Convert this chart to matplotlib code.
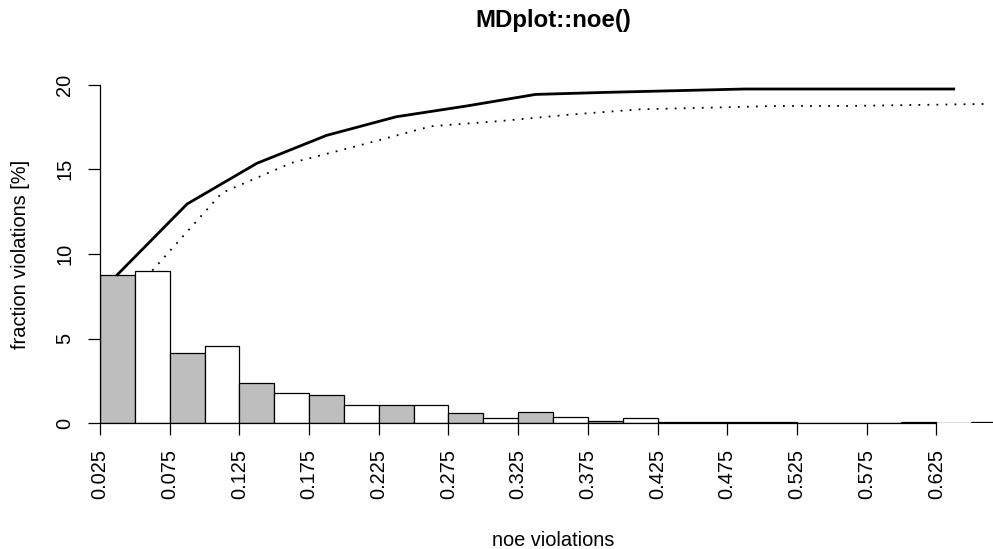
import matplotlib
matplotlib.use("Agg")
import matplotlib.pyplot as plt
import numpy as np

plt.rcParams['font.family'] = ['Liberation Sans', 'DejaVu Sans']

# noe violation histogram, bins of 0.025 starting at 0.025
bin_left = [0.025, 0.050, 0.075, 0.100, 0.125, 0.150, 0.175, 0.200, 0.225,
            0.250, 0.275, 0.300, 0.325, 0.350, 0.375, 0.400, 0.425, 0.450,
            0.475, 0.500, 0.525, 0.550, 0.575, 0.600, 0.625, 0.650]
fraction = [8.78, 9.02, 4.17, 4.59, 2.40, 1.77, 1.65, 1.06, 1.10,
            1.10, 0.63, 0.31, 0.69, 0.38, 0.12, 0.31, 0.10, 0.10,
            0.10, 0.10, 0.00, 0.00, 0.00, 0.06, 0.00, 0.06]
bar_colors = ['#bebebe', 'white']

tick_values = [0.025, 0.075, 0.125, 0.175, 0.225, 0.275, 0.325, 0.375,
               0.425, 0.475, 0.525, 0.575, 0.625]
tick_labels = ['0.025', '0.075', '0.125', '0.175', '0.225', '0.275', '0.325',
               '0.375', '0.425', '0.475', '0.525', '0.575', '0.625']
y_ticks = [0, 5, 10, 15, 20]

width = 0.025
bin_left = np.array(bin_left)
fraction = np.array(fraction)
centers = bin_left + width / 2

fig = plt.figure(figsize=(9.93, 5.49), dpi=100)
ax = fig.add_axes([100 / 993, (549 - 423.3) / 549, 906 / 993, 338.7 / 549])

colors = [bar_colors[i % 2] for i in range(len(fraction))]
ax.bar(bin_left, fraction, width=width, align='edge', color=colors,
       edgecolor='black', linewidth=0.9, zorder=2)

# cumulative curves of the two interleaved series
grey = slice(0, None, 2)
white = slice(1, None, 2)
ax.plot(centers[grey], np.cumsum(fraction[grey]), color='black', lw=2.0,
        solid_joinstyle='miter', zorder=3, clip_on=False)
ax.plot(centers[white], np.cumsum(fraction[white]), color='black', lw=1.3,
        linestyle=(0, (1, 4)), zorder=3, clip_on=False)

ax.set_xlim(0.025, 0.675)
ax.set_ylim(0, 20)

for s in ['top', 'right']:
    ax.spines[s].set_visible(False)
ax.spines['left'].set_bounds(0, 20)
ax.spines['bottom'].set_bounds(0.025, 0.625)
for s in ['left', 'bottom']:
    ax.spines[s].set_linewidth(0.9)

ax.set_xticks(tick_values)
ax.set_xticklabels(tick_labels, rotation=90, va='top', ha='center')
ax.set_yticks(y_ticks)
ax.set_yticklabels([str(v) for v in y_ticks], rotation=90, va='center')
ax.tick_params(axis='both', length=8.6, width=0.9, labelsize=14.4, pad=10)

ax.set_xlabel('noe violations', fontsize=14.4)
ax.xaxis.set_label_coords(0.5, -0.318)
ax.set_ylabel('fraction violations [%]', fontsize=14.4)
ax.yaxis.set_label_coords(-0.077, 0.5)
ax.set_title('MDplot::noe()', fontsize=17.3, fontweight='bold',
             y=1.19, va='center', pad=0)

fig.savefig('out.png', dpi=100)
